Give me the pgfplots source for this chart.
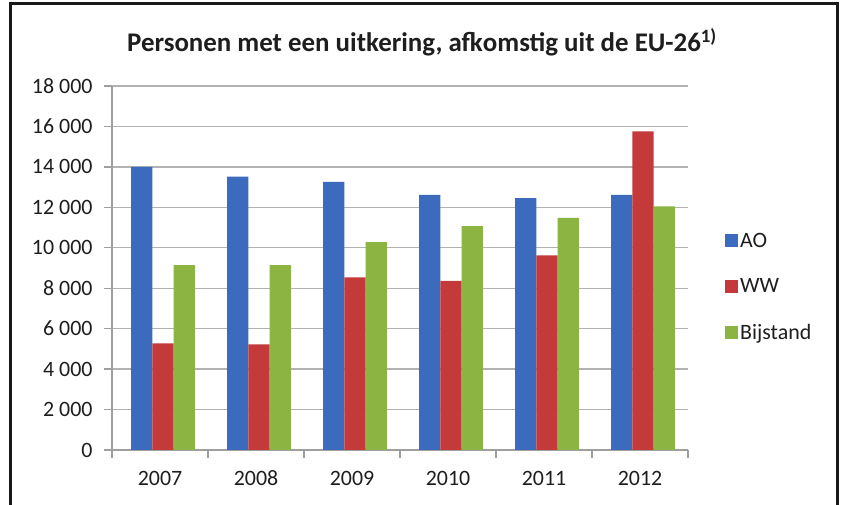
\documentclass[border=0pt]{standalone}
\usepackage{fontspec}
\setmainfont{Carlito}
\usepackage{pgfplots}
\pgfplotsset{compat=1.18}
\definecolor{cAO}{RGB}{60,106,188}
\definecolor{cWW}{RGB}{196,58,58}
\definecolor{cBIJ}{RGB}{140,180,66}
\definecolor{txt}{RGB}{30,30,30}
\begin{document}
\begin{tikzpicture}[x=1bp,y=1bp]
\useasboundingbox (0,0) rectangle (841,505);
\fill[white] (0,0) rectangle (841,505);
\draw[line width=3bp, black!90] (10,-3) -- (10,501) -- (837,501) -- (837,-3);
\node[font=\fontsize{27}{32}\selectfont\bfseries, text=txt] at (422,463) {Personen met een uitkering, afkomstig uit de EU-26\textsuperscript{1)}};
\begin{axis}[
  at={(112bp,55bp)}, anchor=south west,
  scale only axis, width=576bp, height=364bp,
  ymin=0, ymax=18000, xmin=-0.5, xmax=5.5,
  scaled y ticks=false,
  ybar=0pt, bar width=21.3bp,
  xtick={0,1,2,3,4,5},
  xticklabels={2007,2008,2009,2010,2011,2012},
  minor xtick={-0.5,0.5,1.5,2.5,3.5,4.5,5.5},
  ytick={0,2000,4000,6000,8000,10000,12000,14000,16000,18000},
  yticklabels={0,2 000,4 000,6 000,8 000,10 000,12 000,14 000,16 000,18 000},
  /pgf/number format/assume math mode=true,
  axis x line*=bottom, axis y line*=left,
  axis line style={-, draw=gray!75, line width=1.3bp},
  ymajorgrids, grid style={gray!60, line width=1.3bp},
  tick align=outside,
  major x tick style={draw=none},
  minor x tick style={draw=gray!75, line width=1.3bp},
  ytick style={draw=gray!75, line width=1.3bp},
  major tick length=8bp, minor tick length=8bp,
  ticklabel style={font=\fontsize{22}{24}\selectfont, text=txt},
  yticklabel style={xshift=-8bp},
  xticklabel style={yshift=-9bp, text height=15bp, text depth=0bp},
  legend style={at={(1.059,0.448)}, anchor=west, draw=none, fill=none,
    font=\fontsize{22}{24}\selectfont, text=txt, row sep=26bp,
    nodes={inner sep=2bp}},
  legend cell align=left,
  legend image code/.code={\fill[#1,draw=none] (0bp,-6.5bp) rectangle (13bp,6.5bp);},
]
\addplot[fill=cAO, draw=none, bar shift=-18.3bp] coordinates {(0,14000) (1,13520) (2,13260) (3,12610) (4,12450) (5,12610)};
\addplot[fill=cWW, draw=none, bar shift=3bp] coordinates {(0,5270) (1,5220) (2,8540) (3,8360) (4,9630) (5,15750)};
\addplot[fill=cBIJ, draw=none, bar shift=24.3bp] coordinates {(0,9140) (1,9140) (2,10280) (3,11070) (4,11480) (5,12050)};
\legend{AO,WW,Bijstand}
\end{axis}
\end{tikzpicture}
\end{document}
